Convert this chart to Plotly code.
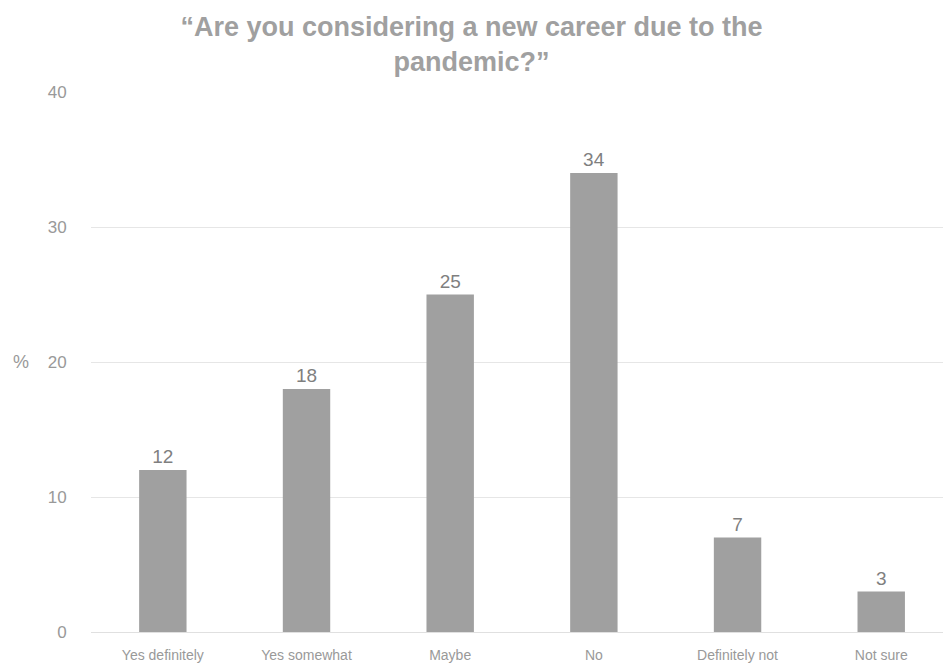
import plotly.graph_objects as go

categories = ["Yes definitely", "Yes somewhat", "Maybe", "No", "Definitely not", "Not sure"]
percent = [12, 18, 25, 34, 7, 3]
y_ticks = [0, 10, 20, 30, 40]

fig = go.Figure(
    go.Bar(
        x=categories,
        y=percent,
        marker=dict(color="#a0a0a0", line=dict(width=0)),
        text=[str(v) for v in percent],
        textposition="outside",
        textfont=dict(family="Liberation Sans, Arial", size=19, color="#7f7f7f"),
        cliponaxis=False,
    )
)

fig.update_layout(
    width=943,
    height=666,
    margin=dict(l=91, r=0, t=92, b=34),
    paper_bgcolor="white",
    plot_bgcolor="white",
    bargap=0.67,
    showlegend=False,
    title=dict(
        text="<b>“Are you considering a new career due to the<br>pandemic?”</b>",
        x=0.5,
        xanchor="center",
        xref="container",
        yref="container",
        y=1 - 36 / 666,
        yanchor="middle",
        font=dict(family="Liberation Sans, Arial", size=27, color="#a0a0a0"),
    ),
    font=dict(family="Liberation Sans, Arial", color="#999999"),
)

fig.update_xaxes(
    range=[-0.5, 5.43],
    showgrid=False,
    showline=True,
    linecolor="#e0e0e0",
    linewidth=1,
    ticks="outside",
    ticklen=10,
    tickcolor="rgba(0,0,0,0)",
    tickfont=dict(size=14, color="#999999"),
)

fig.update_yaxes(
    range=[0, 40],
    tickvals=y_ticks,
    showgrid=True,
    gridcolor="#e6e6e6",
    gridwidth=1,
    zeroline=False,
    showline=False,
    ticks="outside",
    ticklen=20,
    tickcolor="rgba(0,0,0,0)",
    tickfont=dict(size=17, color="#999999"),
)

fig.add_annotation(
    text="%",
    xref="paper",
    yref="y",
    x=-0.07,
    y=20,
    xanchor="right",
    yanchor="middle",
    showarrow=False,
    font=dict(size=18, color="#999999"),
)

fig.write_html("out.html")
